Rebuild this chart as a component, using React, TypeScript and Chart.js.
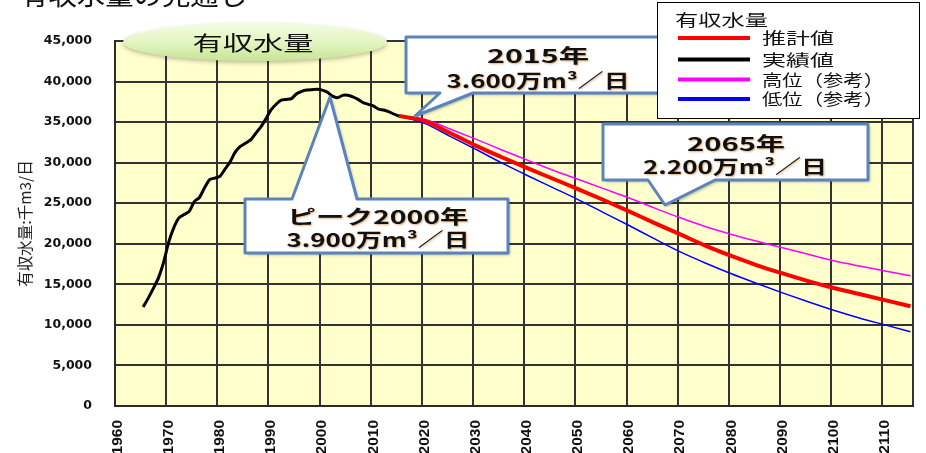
import React, { useEffect, useRef } from 'react';
import { Chart, registerables } from 'chart.js';

Chart.register(...registerables);

// ---- data ----
const actualYears = [
  1965, 1966, 1967, 1968, 1969, 1970, 1971, 1972, 1973, 1974,
  1975, 1976, 1977, 1978, 1979, 1980, 1981, 1982, 1983, 1984,
  1985, 1986, 1987, 1988, 1989, 1990, 1991, 1992, 1993, 1994,
  1995, 1996, 1997, 1998, 1999, 2000, 2001, 2002, 2003, 2004,
  2005, 2006, 2007, 2008, 2009, 2010, 2011, 2012, 2013, 2014, 2015,
];
const actualValues = [
  12200, 13300, 14500, 15800, 17700, 20200, 22000, 23200, 23600, 24000,
  25200, 25700, 26900, 27900, 28100, 28300, 29200, 30100, 31300, 32000,
  32400, 32800, 33600, 34400, 35400, 36500, 37200, 37700, 37800, 37900,
  38500, 38800, 38950, 39000, 39050, 38950, 38700, 38200, 38000, 38300,
  38300, 38100, 37800, 37400, 37200, 37000, 36600, 36500, 36300, 36000, 35750,
];
const projYears = [
  2015, 2020, 2025, 2030, 2035, 2040, 2045, 2050, 2055, 2060, 2065,
  2070, 2075, 2080, 2085, 2090, 2095, 2100, 2105, 2110, 2115,
];
const estimateValues = [
  35750, 35150, 33650, 32100, 30700, 29350, 28050, 26750, 25400, 24000, 22550,
  21150, 19750, 18500, 17350, 16350, 15400, 14550, 13800, 13050, 12300,
];
const highValues = [
  35750, 35350, 34150, 32900, 31600, 30350, 29100, 27950, 26800, 25650, 24400,
  23200, 22100, 21150, 20300, 19500, 18700, 17900, 17250, 16650, 16050,
];
const lowValues = [
  35750, 34850, 33250, 31650, 30000, 28450, 26950, 25450, 23850, 22250, 20600,
  19000, 17600, 16300, 15100, 13950, 12850, 11800, 10850, 10000, 9150,
];
const xTickYears = [1960, 1970, 1980, 1990, 2000, 2010, 2020, 2030, 2040, 2050, 2060, 2070, 2080, 2090, 2100, 2110];
const yTickValues = [0, 5000, 10000, 15000, 20000, 25000, 30000, 35000, 40000, 45000];
const seriesNames = ['実績値', '推計値', '高位（参考）', '低位（参考）'];
const seriesColors = ['#000000', '#FF0000', '#FF00FF', '#0000FF'];
const legendTitle = '有収水量';
const legendOrder = [1, 0, 2, 3];
const yAxisTitle = '有収水量:千m3/日';
const chartTitle = '有収水量の見通し';
const bubbleTitle = '有収水量';
const callout2015 = ['2015年', '3.600万m³／日'];
const calloutPeak = ['ピーク2000年', '3.900万m³／日'];
const callout2065 = ['2065年', '2.200万m³／日'];

const JP = '"Noto Sans CJK JP", "Noto Sans", sans-serif';

function fitText(
  ctx: CanvasRenderingContext2D, text: string, x: number, y: number,
  size: number, width: number, align: CanvasTextAlign, bold = false,
  color = '#000', shadow = false,
) {
  ctx.save();
  ctx.font = `${bold ? 'bold ' : ''}${size}px ${JP}`;
  const w = ctx.measureText(text).width;
  const sx = width / w;
  ctx.translate(x, y);
  ctx.scale(sx, 1);
  ctx.textAlign = align;
  ctx.textBaseline = 'middle';
  ctx.fillStyle = color;
  if (shadow) {
    ctx.shadowColor = 'rgba(200,120,30,0.6)';
    ctx.shadowBlur = 2;
    ctx.shadowOffsetX = 1;
    ctx.shadowOffsetY = 1;
  }
  ctx.fillText(text, 0, 0);
  ctx.restore();
}

function calloutShape(ctx: CanvasRenderingContext2D, pts: number[][]) {
  ctx.save();
  ctx.beginPath();
  pts.forEach((p, i) => (i === 0 ? ctx.moveTo(p[0], p[1]) : ctx.lineTo(p[0], p[1])));
  ctx.closePath();
  ctx.shadowColor = 'rgba(0,0,0,0.3)';
  ctx.shadowBlur = 3;
  ctx.shadowOffsetX = 2;
  ctx.shadowOffsetY = 2;
  ctx.fillStyle = '#FFFFFF';
  ctx.fill();
  ctx.shadowColor = 'transparent';
  ctx.lineJoin = 'round';
  ctx.lineWidth = 3;
  ctx.strokeStyle = '#5B84BE';
  ctx.stroke();
  ctx.restore();
}

function drawGrid(chart: any) {
  const ctx: CanvasRenderingContext2D = chart.ctx;
  const a = chart.chartArea;
  const xs = chart.scales.x;
  const ys = chart.scales.y;
  ctx.save();
  ctx.fillStyle = '#333333';
  xTickYears.forEach((v) => {
    const px = Math.round(xs.getPixelForValue(v));
    ctx.fillRect(px - 1, a.top, 2, a.bottom - a.top);
  });
  yTickValues.forEach((v) => {
    const py = Math.round(ys.getPixelForValue(v));
    ctx.fillRect(a.left, py - 1, a.right - a.left, 2);
  });
  ctx.fillRect(a.right - 1, a.top, 2, a.bottom - a.top);
  ctx.restore();
}

const decorPlugin = {
  id: 'decor',
  beforeDraw(chart: any) {
    const { ctx, chartArea: a } = chart;
    ctx.save();
    ctx.fillStyle = '#FFFFFF';
    ctx.fillRect(0, 0, chart.width, chart.height);
    ctx.fillStyle = '#FFFFCC';
    ctx.fillRect(a.left, a.top, a.right - a.left, a.bottom - a.top);
    ctx.restore();
    drawGrid(chart);
  },
  afterDraw(chart: any) {
    const ctx: CanvasRenderingContext2D = chart.ctx;

    // cropped page title
    ctx.save();
    ctx.font = `26px ${JP}`;
    const tw = ctx.measureText(chartTitle).width;
    ctx.translate(20, 5);
    ctx.scale(227 / tw, 1);
    ctx.fillStyle = '#111';
    ctx.textBaseline = 'alphabetic';
    ctx.fillText(chartTitle, 0, 0);
    ctx.restore();

    // green ellipse
    ctx.save();
    ctx.beginPath();
    ctx.ellipse(255, 42, 132, 19, 0, 0, Math.PI * 2);
    const g = ctx.createLinearGradient(0, 23, 0, 61);
    g.addColorStop(0, '#F5FCE2');
    g.addColorStop(0.55, '#E2F4BE');
    g.addColorStop(1, '#C6E496');
    ctx.shadowColor = 'rgba(0,0,0,0.25)';
    ctx.shadowBlur = 4;
    ctx.shadowOffsetY = 2;
    ctx.fillStyle = g;
    ctx.fill();
    ctx.restore();
    fitText(ctx, bubbleTitle, 253, 43, 20, 121, 'center', false, '#111');

    // callouts
    calloutShape(ctx, [[406, 37], [672, 37], [672, 93], [473, 93], [415, 116], [440, 93], [406, 93]]);
    fitText(ctx, callout2015[0], 538, 56, 19, 102, 'center', true, '#111', true);
    fitText(ctx, callout2015[1], 538, 81, 19, 183, 'center', true, '#111', true);

    calloutShape(ctx, [[245, 199], [292, 199], [330, 97], [357, 199], [508, 199], [508, 253], [245, 253]]);
    fitText(ctx, calloutPeak[0], 378, 217, 19, 181, 'center', true, '#111', true);
    fitText(ctx, calloutPeak[1], 378, 240, 19, 183, 'center', true, '#111', true);

    calloutShape(ctx, [[603, 124], [868, 124], [868, 180], [715, 180], [665, 205], [648, 180], [603, 180]]);
    fitText(ctx, callout2065[0], 736, 144, 19, 98, 'center', true, '#111', true);
    fitText(ctx, callout2065[1], 735, 167, 19, 184, 'center', true, '#111', true);

    // legend
    ctx.save();
    ctx.fillStyle = '#FFFFFF';
    ctx.fillRect(657, 2, 262, 116);
    ctx.strokeStyle = '#000';
    ctx.lineWidth = 1;
    ctx.strokeRect(657.5, 2.5, 262, 116);
    ctx.restore();
    fitText(ctx, legendTitle, 675, 20, 16, 93, 'left', false, '#111');
    const rowsY = [38, 59.5, 79.5, 99];
    const widths = [72, 72, 122, 122];
    legendOrder.forEach((si, r) => {
      const y = rowsY[r];
      ctx.save();
      ctx.strokeStyle = seriesColors[si];
      ctx.lineWidth = 4;
      ctx.beginPath();
      ctx.moveTo(678, y);
      ctx.lineTo(750, y);
      ctx.stroke();
      ctx.restore();
      fitText(ctx, seriesNames[si], 762, y, 16, widths[r], 'left', false, '#111');
    });
  },
};

const toPts = (xs: number[], ys: number[]) => xs.map((x, i) => ({ x: x + 0.5, y: ys[i] }));

export default function App() {
  const ref = useRef<HTMLCanvasElement>(null);
  useEffect(() => {
    document.body.style.margin = '0';
    const canvas = ref.current!;
    const chart = new Chart(canvas, {
      type: 'line',
      data: {
        datasets: [
          {
            label: seriesNames[0], data: toPts(actualYears, actualValues),
            borderColor: seriesColors[0], borderWidth: 3, pointRadius: 0, tension: 0.2,
          },
          {
            label: seriesNames[1], data: toPts(projYears, estimateValues),
            borderColor: seriesColors[1], borderWidth: 4, pointRadius: 0, cubicInterpolationMode: 'monotone',
          },
          {
            label: seriesNames[2], data: toPts(projYears, highValues),
            borderColor: seriesColors[2], borderWidth: 1.5, pointRadius: 0, cubicInterpolationMode: 'monotone',
          },
          {
            label: seriesNames[3], data: toPts(projYears, lowValues),
            borderColor: seriesColors[3], borderWidth: 1.5, pointRadius: 0, cubicInterpolationMode: 'monotone',
          },
        ],
      },
      options: {
        responsive: false,
        animation: false,
        events: [],
        layout: { padding: { top: 41, right: 13, bottom: 0, left: 0 } },
        plugins: { legend: { display: false }, tooltip: { enabled: false } },
        scales: {
          x: {
            type: 'linear', min: 1960, max: 2116,
            afterFit: (s: any) => { s.height = 47; },
            ticks: {
              stepSize: 10, includeBounds: false, autoSkip: false,
              minRotation: 90, maxRotation: 90, padding: 6, labelOffset: 2.5,
              color: '#111',
              font: { family: '"Liberation Sans", Arial, sans-serif', weight: 'bold', size: 15.5 },
              callback: (v: any) => String(v),
            },
            grid: { display: false },
            border: { color: '#2a2a2a', width: 2 },
          },
          y: {
            min: 0, max: 45000,
            afterFit: (s: any) => { s.width = 115; },
            ticks: {
              stepSize: 5000, padding: 15, color: '#111',
              font: { family: '"DejaVu Sans", sans-serif', weight: 'bold', size: 12.5 },
              callback: (v: any) => Number(v).toLocaleString('en-US'),
            },
            grid: { display: false },
            border: { color: '#2a2a2a', width: 2 },
            title: {
              display: true, text: yAxisTitle, color: '#222',
              font: { family: JP, size: 15.5 },
              padding: { top: 16, bottom: 0 },
            },
          },
        },
      },
      plugins: [decorPlugin],
    } as any);
    return () => chart.destroy();
  }, []);
  return (
    <div style={{ width: 926, height: 453 }}>
      <canvas ref={ref} width={926} height={453} style={{ display: 'block' }} />
    </div>
  );
}
